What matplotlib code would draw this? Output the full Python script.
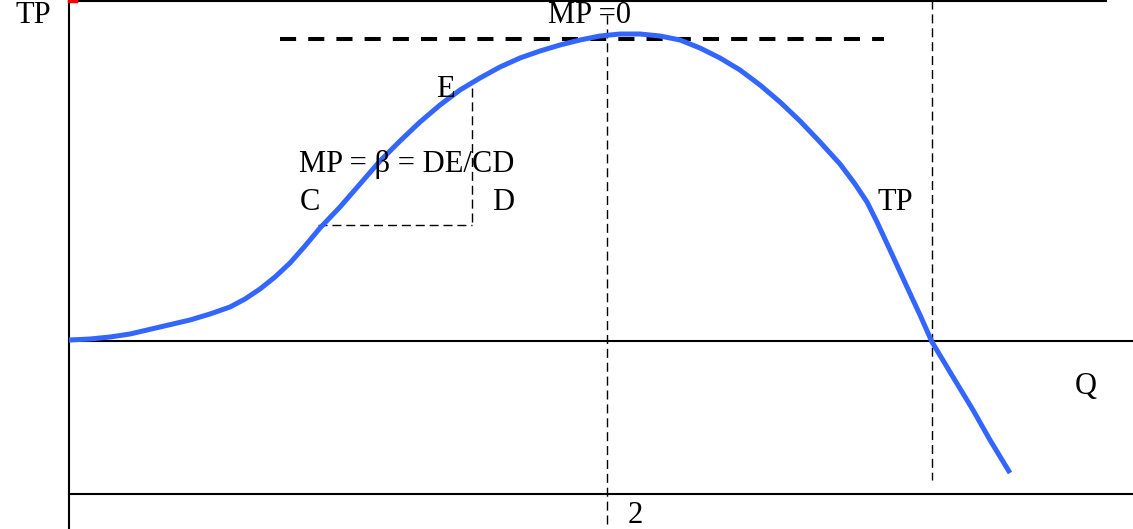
import matplotlib
matplotlib.use("Agg")
import matplotlib.pyplot as plt

# TP curve (x = quantity in pixels, y = pixels from top)
tp_x = [69, 90, 110, 130, 160, 190, 210, 230, 245, 260, 275, 290, 305, 320, 340, 360,
        380, 400, 420, 440, 460, 480, 500, 520, 540, 560, 580, 600, 620, 640, 660,
        680, 700, 720, 740, 760, 780, 800, 820, 840, 855, 867, 877, 890, 907, 920,
        932, 950, 973, 990, 1010]
tp_y = [340, 339, 337, 334, 327, 320, 314, 307, 299, 289, 277, 263, 246, 228, 207, 184,
        161, 141, 122, 105, 90, 78, 67, 58, 51, 45, 40, 36, 34, 34, 36,
        40, 48, 58, 70, 85, 102, 121, 142, 164, 184, 202, 222, 250, 287, 315,
        342, 372, 410, 440, 473]

# reference lines
q_peak = 607
q_zero = 932
y_axis_zero = 341
y_bottom = 494
y_top = 1
mp0_level = 39
mp0_from, mp0_to = 280, 884
c_pt = (318, 225)
e_pt = (472, 88)

labels = [("TP", 15, 23), ("MP =0", 548, 23), ("E", 436, 97),
          ("MP = β = DE/CD", 299, 172), ("C", 300, 210), ("D", 492, 210),
          ("TP", 877, 210), ("Q", 1075, 394), ("2", 628, 523)]

plt.rcParams['font.family'] = ['Liberation Serif', 'DejaVu Serif']

fig = plt.figure(figsize=(11.33, 5.29), dpi=100)
ax = fig.add_axes([0, 0, 1, 1])
ax.set_xlim(0, 1133)
ax.set_ylim(529, 0)
ax.axis('off')

# axes frame lines
ax.plot([69, 69], [0, 529], color='k', lw=1.5)
ax.plot([69, 1106], [y_top, y_top], color='k', lw=1.5)
ax.plot([69, 1133], [y_axis_zero, y_axis_zero], color='k', lw=1.5)
ax.plot([69, 1133], [y_bottom, y_bottom], color='k', lw=1.5)
ax.plot([69, 76], [1, 1], color='red', lw=2.5)

# dashed guides
ax.plot([q_peak, q_peak], [15, 529], color='k', lw=1.0, dashes=(6.5, 3.5))
ax.plot([q_zero, q_zero], [0, 480], color='k', lw=1.0, dashes=(6.5, 3.5))
ax.plot([c_pt[0], e_pt[0]], [c_pt[1], c_pt[1]], color='k', lw=1.0, dashes=(6.5, 3.5))
ax.plot([e_pt[0], e_pt[0]], [e_pt[1], c_pt[1]], color='k', lw=1.0, dashes=(6.5, 3.5))
ax.plot([mp0_from, mp0_to], [mp0_level, mp0_level], color='k', lw=2.9, dashes=(4, 3))

# TP curve
ax.plot(tp_x, tp_y, color='#3366ff', lw=3.6, solid_capstyle='butt', solid_joinstyle='round')

for txt, x, y in labels:
    ax.text(x, y, txt, fontsize=22, ha='left', va='baseline', color='k')

fig.savefig('out.png', dpi=100)
